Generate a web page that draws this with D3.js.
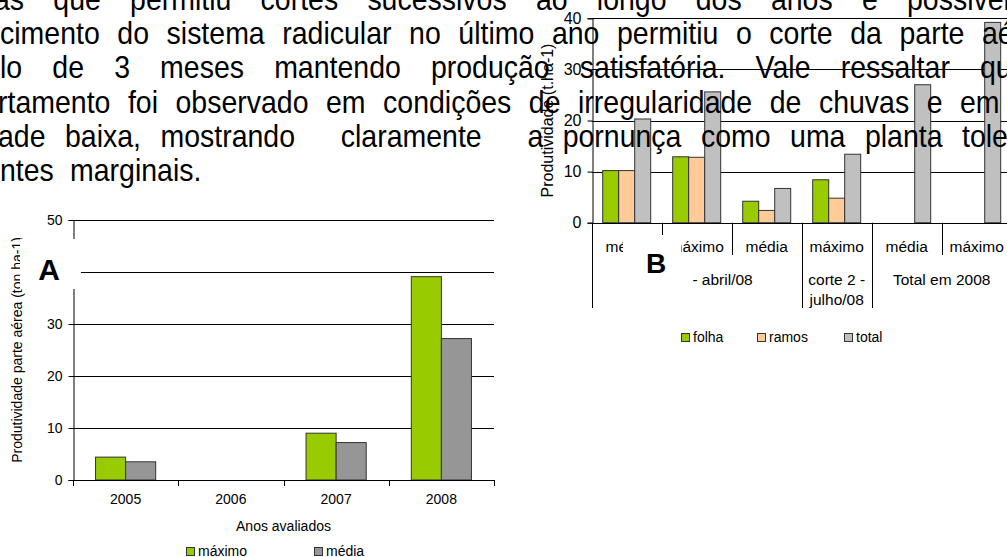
<!DOCTYPE html>
<html><head><meta charset="utf-8">
<script src="https://cdn.jsdelivr.net/npm/d3@7"></script>
<style>
body{margin:0;background:#fff}
svg{display:block}
text{font-family:"Liberation Sans",Arial,sans-serif;fill:#000}
</style>
</head><body>
<svg id="c" width="1007" height="557"></svg>
<script>
// ---- Chart A data ----
const yearsA = ["2005", "2006", "2007", "2008"];
const seriesA = ["máximo", "média"];
const maximoA = [4.4, null, 9.0, 39.1];
const mediaA = [3.5, null, 7.2, 27.2];
const ticksA = [0, 10, 20, 30, 40, 50];

// ---- Chart B data ----
const catsB = ["média", "máximo", "média", "máximo", "média", "máximo"];
const groupLabelsB = [["corte 1 - abril/08"], ["corte 2 -", "julho/08"], ["Total em 2008"]];
const groupSpansB = [3, 1, 2];
const seriesB = ["folha", "ramos", "total"];
const folhaB = [10.2, 12.9, 4.2, 8.4, null, null];
const ramosB = [10.2, 12.8, 2.4, 4.8, null, null];
const totalB = [20.3, 25.6, 6.7, 13.4, 27.0, 39.2];
const ticksB = [0, 10, 20, 30, 40];

// ---- Body text (clipped justified paragraph) ----
const textLines = [
  {words: ["as","que","permitiu","cortes","sucessivos","ao","longo","dos","anos","e","possivelmente"], first: -6, last: 907},
  {words: ["cimento","do","sistema","radicular","no","último","ano","permitiu","o","corte","da","parte","aérea"], first: 0, last: 982},
  {words: ["lo","de","3","meses","mantendo","produção","satisfatória.","Vale","ressaltar","que"], first: 0, last: 980},
  {words: ["rtamento","foi","observado","em","condições","de","irregularidade","de","chuvas","e","em"], first: -2, last: 960},
  {words: ["ade","baixa,","mostrando","claramente","a","pornunça","como","uma","planta","tolerante"], first: -2, last: 962, weights: [1,1,2.35,2.35,1,1,1,1,1]},
  {words: ["ntes","marginais."], first: 0, last: 70}
];

const svg = d3.select("#c");
svg.append("rect").attr("width",1007).attr("height",557).attr("fill","#fff");

const colors = {"máximo":"#99CC00","média":"#969696","folha":"#99CC00","ramos":"#FFCC99","total":"#C0C0C0"};

// ================= Chart A =================
(function(){
  const L = 73, R = 494, T = 220, B = 480;
  const x = d3.scaleBand().domain(yearsA).range([L, R]).padding(0);
  const x1 = d3.scaleBand().domain(seriesA).range([0, x.bandwidth()]).paddingInner(0).paddingOuter(0.75);
  const y = d3.scaleLinear().domain([0, 50]).range([B, T]);
  const g = svg.append("g").attr("font-size", 14);

  g.selectAll("line.grid").data(ticksA.filter(d=>d>0)).join("line")
    .attr("x1", L).attr("x2", R).attr("y1", d=>Math.round(y(d))+0.5).attr("y2", d=>Math.round(y(d))+0.5)
    .attr("stroke", "#000").attr("stroke-width", 1);

  const data = [];
  yearsA.forEach((yr,i)=>{
    [["máximo", maximoA[i]], ["média", mediaA[i]]].forEach(([s,v])=>{ if (v!=null) data.push({yr, s, v}); });
  });
  g.selectAll("rect.bar").data(data).join("rect")
    .attr("x", d=>x(d.yr)+x1(d.s)).attr("width", x1.bandwidth())
    .attr("y", d=>y(d.v)).attr("height", d=>y(0)-y(d.v))
    .attr("fill", d=>colors[d.s]).attr("stroke", "#333").attr("stroke-width", 1);

  const ya = g.append("g").attr("transform", `translate(${L+0.5},0)`)
    .call(d3.axisLeft(y).tickValues(ticksA).tickSize(5).tickPadding(6).tickFormat(d3.format("d")));
  ya.select(".domain").attr("stroke", "#000");
  ya.selectAll("text").attr("font-size", 14).attr("font-family", null);
  ya.selectAll("line").attr("stroke", "#000");

  const xa = g.append("g").attr("transform", `translate(0,${B+0.5})`)
    .call(d3.axisBottom(x).tickSize(0).tickPadding(14));
  xa.select(".domain").remove();
  xa.selectAll("text").attr("font-size", 14).attr("font-family", null);
  g.append("line").attr("x1", L).attr("x2", R).attr("y1", B+0.5).attr("y2", B+0.5).attr("stroke", "#000");
  const bounds = yearsA.map(d=>x(d)).concat([R]);
  g.selectAll("line.xt").data(bounds).join("line")
    .attr("x1", d=>Math.round(d)+0.5).attr("x2", d=>Math.round(d)+0.5).attr("y1", B).attr("y2", B+6)
    .attr("stroke", "#000");

  g.append("text").attr("x", (L+R)/2).attr("y", 531).attr("text-anchor", "middle").text("Anos avaliados");
  g.append("text").attr("transform", `translate(22,${(T+B)/2}) rotate(-90)`).attr("text-anchor", "middle")
    .text("Produtividade parte aérea (ton ha-1)");

  const lg = g.append("g");
  const lx = [186, 314];
  seriesA.forEach((s,i)=>{
    lg.append("rect").attr("x", lx[i]+0.5).attr("y", 547.5).attr("width", 8).attr("height", 8)
      .attr("fill", colors[s]).attr("stroke", "#333");
    lg.append("text").attr("x", lx[i]+12).attr("y", 556).text(s);
  });

  svg.append("rect").attr("x", 20).attr("y", 239).attr("width", 61).attr("height", 50).attr("fill", "#fff");
  svg.append("text").attr("x", 49).attr("y", 280).attr("text-anchor", "middle")
    .attr("font-size", 30).attr("font-weight", "bold").text("A");
})();

// ================= Chart B =================
(function(){
  const L = 591.7, R = 1011.7, T = 18.3, B = 222.7;
  const fsB = 15.5;
  const idx = d3.range(catsB.length);
  const x = d3.scaleBand().domain(idx).range([L, R]).padding(0);
  const x1 = d3.scaleBand().domain(seriesB).range([0, x.bandwidth()]).paddingInner(0).paddingOuter(0.6875);
  const y = d3.scaleLinear().domain([0, 40]).range([B, T]);
  const g = svg.append("g").attr("font-size", fsB);

  g.selectAll("line.grid").data(ticksB.filter(d=>d>0)).join("line")
    .attr("x1", L).attr("x2", R).attr("y1", d=>Math.round(y(d))+0.5).attr("y2", d=>Math.round(y(d))+0.5)
    .attr("stroke", "#000");

  const vals = {folha: folhaB, ramos: ramosB, total: totalB};
  const data = [];
  idx.forEach(i=>seriesB.forEach(s=>{ const v = vals[s][i]; if (v!=null) data.push({i, s, v}); }));
  g.selectAll("rect.bar").data(data).join("rect")
    .attr("x", d=>x(d.i)+x1(d.s)).attr("width", x1.bandwidth())
    .attr("y", d=>y(d.v)).attr("height", d=>y(0)-y(d.v))
    .attr("fill", d=>colors[d.s]).attr("stroke", "#333").attr("stroke-width", 1);

  const ya = g.append("g").attr("transform", `translate(${Math.round(L)+0.5},0)`)
    .call(d3.axisLeft(y).tickValues(ticksB).tickSize(5).tickPadding(6).tickFormat(d3.format("d")));
  ya.select(".domain").attr("stroke", "#000");
  ya.selectAll("text").attr("font-size", 16).attr("font-family", null);
  ya.selectAll("line").attr("stroke", "#000");

  g.append("line").attr("x1", L).attr("x2", R).attr("y1", Math.round(B)+0.5).attr("y2", Math.round(B)+0.5).attr("stroke", "#000");

  g.selectAll("text.c1").data(idx).join("text")
    .attr("x", d=>x(d)+x.bandwidth()/2).attr("y", 252).attr("text-anchor", "middle").text(d=>catsB[d]);

  const groupStarts = [0];
  groupSpansB.forEach(s=>groupStarts.push(groupStarts[groupStarts.length-1]+s));
  const bnds = d3.range(catsB.length+1);
  g.selectAll("line.xt").data(bnds).join("line")
    .attr("x1", d=>Math.round(L + d*x.bandwidth())+0.5).attr("x2", d=>Math.round(L + d*x.bandwidth())+0.5)
    .attr("y1", B).attr("y2", d=>groupStarts.includes(d) ? 308 : 255)
    .attr("stroke", "#000");

  groupLabelsB.forEach((lines, k)=>{
    const cx = L + (groupStarts[k] + groupSpansB[k]/2)*x.bandwidth();
    lines.forEach((t, j)=>{
      g.append("text").attr("x", cx).attr("y", 285 + j*20).attr("text-anchor", "middle").text(t);
    });
  });

  g.append("text").attr("font-size", 16).attr("transform", `translate(553,${(T+B)/2}) rotate(-90)`).attr("text-anchor", "middle")
    .text("Produtividade (t.ha-1)");

  const lx = [681, 757, 844];
  seriesB.forEach((s,i)=>{
    g.append("rect").attr("x", lx[i]+0.5).attr("y", 333.5).attr("width", 8).attr("height", 8)
      .attr("fill", colors[s]).attr("stroke", "#333");
    g.append("text").attr("x", lx[i]+12).attr("y", 342).attr("font-size", 14).text(s);
  });

  svg.append("rect").attr("x", 623).attr("y", 235).attr("width", 58).attr("height", 32).attr("fill", "#fff");
  svg.append("rect").attr("x", 623).attr("y", 265).attr("width", 65.5).attr("height", 30).attr("fill", "#fff");
  svg.append("text").attr("x", 656).attr("y", 273).attr("text-anchor", "middle")
    .attr("font-size", 28).attr("font-weight", "bold").text("B");
})();

// ================= Body text =================
(function(){
  const fs = 28.5, vs = 1.1, base0 = 10, gap = 34.2;
  const tg = svg.append("g");
  textLines.forEach((ln, i)=>{
    const lg = tg.append("g").attr("transform", `translate(0,${base0 + i*gap}) scale(1,${vs})`);
    const nodes = ln.words.map(w=>lg.append("text").attr("font-size", fs).text(w));
    const widths = nodes.map(n=>n.node().getComputedTextLength());
    const weights = ln.weights || ln.words.slice(1).map(()=>1);
    const unit = (ln.last - ln.first - d3.sum(widths.slice(0,-1))) / d3.sum(weights);
    let xx = ln.first;
    nodes.forEach((n,k)=>{ n.attr("x", xx); xx += widths[k] + (weights[k]||0)*unit; });
  });
})();
</script>
</body></html>
